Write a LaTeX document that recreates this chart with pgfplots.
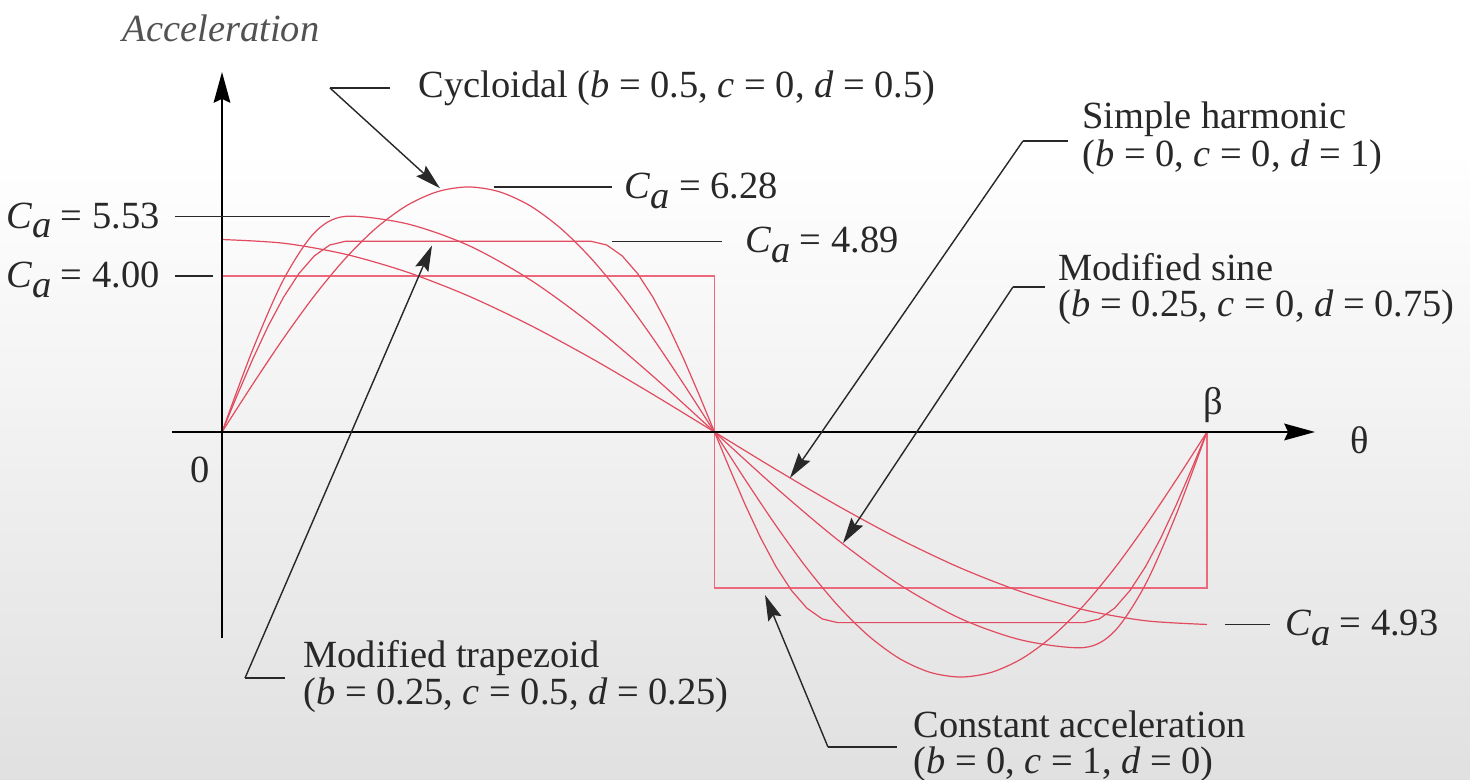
\documentclass[border=0pt]{standalone}
\usepackage{fontspec}
\newfontfamily\fa{Liberation Serif}
\usepackage{pgfplots}
\pgfplotsset{compat=1.18}
\usetikzlibrary{arrows.meta}

\definecolor{curve}{RGB}{225,75,95}
\definecolor{rect}{RGB}{236,105,125}
\definecolor{ink}{RGB}{40,40,40}

% C with italic subscript a
\newcommand{\Ca}{\textit{C}\kern-0.2pt\raisebox{-3.8pt}{\textit{a}}}

\tikzset{
  leader/.style={ink, line width=0.55pt},
  pointer/.style={ink, line width=0.55pt, -{Stealth[length=10pt,width=5.5pt,inset=1.5pt]}},
  txt/.style={text=ink, inner sep=0pt, font=\fa\fontsize{15}{15}\selectfont},
}

\begin{document}
\begin{tikzpicture}
% page background
\fill[white] (0,0) rectangle (573.3pt,304.2pt);
\shade[top color=white, bottom color=black!12] (0,0) rectangle (573.3pt,245.7pt);

\begin{axis}[
  at={(0,0)}, anchor=south west,
  scale only axis, width=573.3pt, height=304.2pt,
  xmin=-0.22538, xmax=1.26701,
  ymin=-8.92308, ymax=11.07692,
  hide axis, clip=false,
]

% constant acceleration (b = 0, c = 1, d = 0)
\addplot[rect, line width=0.55pt] coordinates {
  (0,0) (0,4) (0.5,4) (0.5,-4) (1,-4) (1,0)
};

% modified trapezoid (b = 0.25, c = 0.5, d = 0.25)
\addplot[curve, line width=0.47pt] coordinates {
  (0,0) (0.015625,0.954) (0.03125,1.871) (0.046875,2.716) (0.0625,3.456)
  (0.078125,4.064) (0.09375,4.516) (0.109375,4.794) (0.125,4.888)
  (0.375,4.888)
  (0.390625,4.794) (0.40625,4.516) (0.421875,4.064) (0.4375,3.456)
  (0.453125,2.716) (0.46875,1.871) (0.484375,0.954) (0.5,0)
  (0.515625,-0.954) (0.53125,-1.871) (0.546875,-2.716) (0.5625,-3.456)
  (0.578125,-4.064) (0.59375,-4.516) (0.609375,-4.794) (0.625,-4.888)
  (0.875,-4.888)
  (0.890625,-4.794) (0.90625,-4.516) (0.921875,-4.064) (0.9375,-3.456)
  (0.953125,-2.716) (0.96875,-1.871) (0.984375,-0.954) (1,0)
};

% modified sine (b = 0.25, c = 0, d = 0.75)
\addplot[curve, line width=0.47pt, smooth] coordinates {
  (0,0) (0.03125,2.116) (0.0625,3.909) (0.09375,5.107) (0.125,5.528)
  (0.1875,5.340) (0.25,4.787) (0.3125,3.909) (0.375,2.764) (0.4375,1.431)
  (0.5,0) (0.5625,-1.431) (0.625,-2.764) (0.6875,-3.909) (0.75,-4.787)
  (0.8125,-5.340) (0.875,-5.528)
  (0.90625,-5.107) (0.9375,-3.909) (0.96875,-2.116) (1,0)
};

% simple harmonic (b = 0, c = 0, d = 1)
\addplot[curve, line width=0.47pt, smooth] coordinates {
  (0,4.935) (0.0625,4.840) (0.125,4.559) (0.1875,4.103) (0.25,3.490)
  (0.3125,2.742) (0.375,1.889) (0.4375,0.963) (0.5,0) (0.5625,-0.963)
  (0.625,-1.889) (0.6875,-2.742) (0.75,-3.490) (0.8125,-4.103)
  (0.875,-4.559) (0.9375,-4.840) (1,-4.935)
};

% cycloidal (b = 0.5, c = 0, d = 0.5)
\addplot[curve, line width=0.47pt, smooth] coordinates {
  (0,0) (0.03125,1.226) (0.0625,2.404) (0.09375,3.491) (0.125,4.443)
  (0.15625,5.224) (0.1875,5.805) (0.21875,6.162) (0.25,6.283)
  (0.28125,6.162) (0.3125,5.805) (0.34375,5.224) (0.375,4.443)
  (0.40625,3.491) (0.4375,2.404) (0.46875,1.226) (0.5,0)
  (0.53125,-1.226) (0.5625,-2.404) (0.59375,-3.491) (0.625,-4.443)
  (0.65625,-5.224) (0.6875,-5.805) (0.71875,-6.162) (0.75,-6.283)
  (0.78125,-6.162) (0.8125,-5.805) (0.84375,-5.224) (0.875,-4.443)
  (0.90625,-3.491) (0.9375,-2.404) (0.96875,-1.226) (1,0)
};

% axes
\draw[black, line width=0.78pt, -{Stealth[length=12pt,width=6.5pt,inset=1.5pt]}]
  (axis cs:0,-5.282) -- (axis cs:0,9.231);
\draw[black, line width=0.78pt, -{Stealth[length=12pt,width=6.5pt,inset=1.5pt]}]
  (axis cs:-0.0508,0) -- (axis cs:1.1097,0);

\node[txt, text=black!68, font=\fa\fontsize{15}{15}\selectfont\itshape]
  at (axis cs:-0.001,10.359) {Acceleration};
\node[txt] at (axis cs:1.1553,-0.205) {θ};
\node[txt] at (axis cs:1.0061,0.692) {β};
\node[txt] at (axis cs:-0.0223,-0.974) {0};

% peak value markers
\draw[leader] (axis cs:-0.0477,5.53) -- (axis cs:0.1096,5.53);
\node[txt, anchor=base east] at (axis cs:-0.0629,5.23) {\Ca{} = 5.53};
\draw[leader] (axis cs:-0.0477,4.00) -- (axis cs:-0.0091,4.00);
\node[txt, anchor=base east] at (axis cs:-0.0629,3.70) {\Ca{} = 4.00};

\draw[leader] (axis cs:0.2761,6.28) -- (axis cs:0.3959,6.28);
\node[txt, anchor=base west] at (axis cs:0.4086,5.98) {\Ca{} = 6.28};
\draw[leader] (axis cs:0.3959,4.89) -- (axis cs:0.5076,4.89);
\node[txt, anchor=base west] at (axis cs:0.5310,4.59) {\Ca{} = 4.89};

\draw[leader] (axis cs:1.0183,-4.93) -- (axis cs:1.0640,-4.93);
\node[txt, anchor=base west] at (axis cs:1.0792,-5.23) {\Ca{} = 4.93};

% cycloidal
\draw[leader] (axis cs:0.1706,8.821) -- (axis cs:0.1096,8.821);
\draw[pointer] (axis cs:0.1096,8.821) -- (axis cs:0.2213,6.25);
\node[txt, anchor=west] at (axis cs:0.1990,8.821)
  {Cycloidal (\textit{b} = 0.5, \textit{c} = 0, \textit{d} = 0.5)};

% simple harmonic
\draw[leader] (axis cs:0.8589,7.462) -- (axis cs:0.8132,7.462);
\draw[pointer] (axis cs:0.8132,7.462) -- (axis cs:0.5766,-1.18);
\node[txt, anchor=base west] at (axis cs:0.8731,7.769) {Simple harmonic};
\node[txt, anchor=base west] at (axis cs:0.8731,6.795)
  {(\textit{b} = 0, \textit{c} = 0, \textit{d} = 1)};

% modified sine
\draw[leader] (axis cs:0.8355,3.718) -- (axis cs:0.8030,3.718);
\draw[pointer] (axis cs:0.8030,3.718) -- (axis cs:0.6305,-2.85);
\node[txt, anchor=base west] at (axis cs:0.8487,3.897) {Modified sine};
\node[txt, anchor=base west] at (axis cs:0.8487,2.974)
  {(\textit{b} = 0.25, \textit{c} = 0, \textit{d} = 0.75)};

% modified trapezoid
\draw[leader] (axis cs:0.0640,-6.308) -- (axis cs:0.0234,-6.308);
\draw[pointer] (axis cs:0.0234,-6.308) -- (axis cs:0.2132,4.78);
\node[txt, anchor=base west] at (axis cs:0.0822,-6.051) {Modified trapezoid};
\node[txt, anchor=base west] at (axis cs:0.0822,-7.000)
  {(\textit{b} = 0.25, \textit{c} = 0.5, \textit{d} = 0.25)};

% constant acceleration
\draw[leader] (axis cs:0.6853,-8.077) -- (axis cs:0.6152,-8.077);
\draw[pointer] (axis cs:0.6152,-8.077) -- (axis cs:0.5513,-4.18);
\node[txt, anchor=base west] at (axis cs:0.7015,-7.846) {Constant acceleration};
\node[txt, anchor=base west] at (axis cs:0.7015,-8.744)
  {(\textit{b} = 0, \textit{c} = 1, \textit{d} = 0)};

\end{axis}
\pgfresetboundingbox
\path (0,0) rectangle (573.3pt,304.2pt);
\end{tikzpicture}
\end{document}
